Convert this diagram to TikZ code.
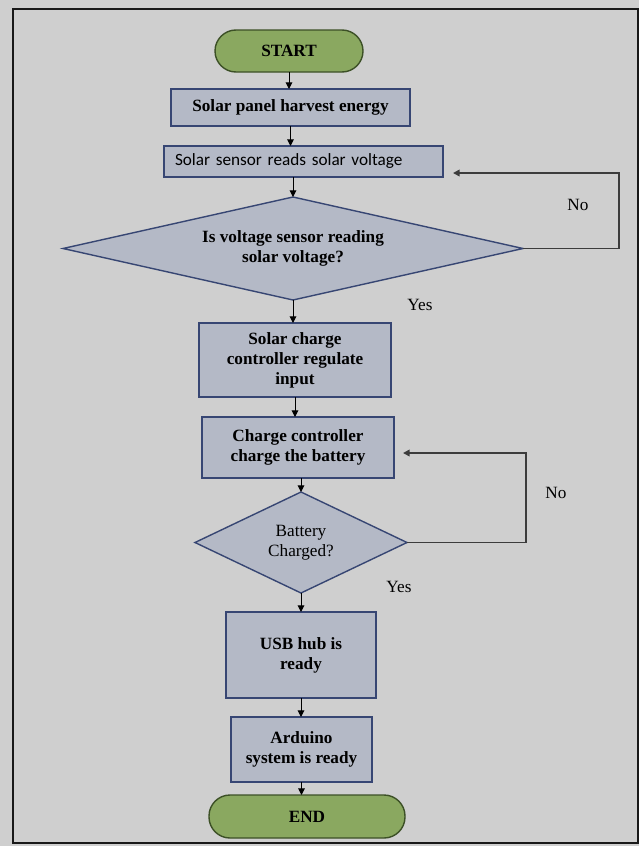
\documentclass[tikz,border=0pt]{standalone}
\usepackage{fontspec}
\setmainfont{Liberation Serif}
\newfontfamily\calibri{Carlito}
\usepackage{tikz}
\usetikzlibrary{shapes.geometric, positioning, arrows.meta}
\definecolor{fondo}{RGB}{207,207,207}
\definecolor{cajafill}{RGB}{180,185,198}
\definecolor{cajaborde}{RGB}{55,70,115}
\definecolor{verde}{RGB}{138,168,96}
\definecolor{verdeborde}{RGB}{60,80,38}
\definecolor{lazo}{RGB}{60,60,60}
\tikzset{
	>={Triangle[length=3.3pt,width=3.3pt]}, % Punta de las flechas
	every node/.style={outer sep=0pt, font=\rmfamily\mdseries\fontsize{8.6}{10}\selectfont}, % Texto normal
	terminal/.style={draw=verdeborde, fill=verde, line width=0.7pt, rounded corners=10.5pt, inner sep=0pt, font=\rmfamily\bfseries\fontsize{8.6}{10}\selectfont}, % Inicio y fin
	caja/.style={draw=cajaborde, fill=cajafill, line width=0.7pt, align=center, inner sep=0pt, font=\rmfamily\bfseries\fontsize{8.6}{10}\selectfont}, % Procesos
	decision/.style={diamond, draw=cajaborde, fill=cajafill, line width=0.7pt, align=center, inner sep=0pt}, % Preguntas
	flujo/.style={->, line width=0.5pt, black}, % Flechas verticales
	retorno/.style={->, line width=0.8pt, draw=lazo}, % Lazos del No
	etiqueta/.style={inner sep=0pt, font=\rmfamily\mdseries\fontsize{8.6}{10}\selectfont} % Yes y No
}

\begin{document}
\begin{tikzpicture}
				\fill[fondo] (0,0) rectangle (319.5pt,-423pt);
				\draw[line width=1pt, black!90] (6.5pt,-4.5pt) rectangle (319pt,-421.5pt);

				\node[terminal, minimum width=74pt, minimum height=21pt] (start) at (144.5pt,-25.5pt) {START};
				\node[caja, minimum width=119.5pt, minimum height=18.5pt, below=8.5pt of start, xshift=0.75pt] (harvest) {Solar panel harvest energy};
				\node[caja, font=\calibri\mdseries\fontsize{8.6}{10}\selectfont, text width=128.5pt, inner xsep=5.5pt, align=left, minimum height=15.5pt, below=10pt of harvest, xshift=6.5pt] (sensor) {Solar sensor reads solar voltage};
				\node[decision, aspect=4.47, font=\rmfamily\bfseries\fontsize{8.6}{10}\selectfont, minimum width=230pt, minimum height=51.5pt, below=10pt of sensor, xshift=-5.25pt] (check) {Is voltage sensor reading\\solar voltage?};
				\node[caja, minimum width=96pt, minimum height=37pt, below=11.5pt of check, xshift=1pt] (regulate) {Solar charge\\controller regulate\\input};
				\node[caja, minimum width=96pt, minimum height=30.5pt, below=10pt of regulate, xshift=1.5pt] (charge) {Charge controller\\charge the battery};
				\node[decision, aspect=2.1, minimum width=106pt, minimum height=50.5pt, below=7pt of charge, xshift=1.5pt] (charged) {Battery\\Charged?};
				\node[caja, minimum width=75pt, minimum height=43pt, below=9.5pt of charged] (usb) {USB hub is\\ready};
				\node[caja, minimum width=70.5pt, minimum height=32.5pt, below=9.5pt of usb, xshift=0.25pt] (arduino) {Arduino\\system is ready};
				\node[terminal, minimum width=98pt, minimum height=21.5pt, below=6.5pt of arduino, xshift=2.75pt] (end) {END};

				\foreach \a/\b in {start/harvest, harvest/sensor, check/regulate, regulate/charge, charged/usb, usb/arduino, arduino/end}
					\draw[flujo] (\a.south) -- (\a.south |- \b.north);
				\foreach \a/\b in {sensor/check, charge/charged}
					\draw[flujo] (\b.north |- \a.south) -- (\b.north);

				% lazos de vuelta
				\coordinate[right=5pt of sensor.east, yshift=-5.75pt] (ret1);
				\draw[retorno] (check.east) -- ++(48pt,0) |- (ret1);
				\coordinate[right=4.5pt of charge.east, yshift=-2.75pt] (ret2);
				\draw[retorno] (charged.east) -- ++(59.5pt,0) |- (ret2);

				\node[etiqueta] (no1) at ([shift={(27.5pt,22pt)}]check.east) {No};
				\node[etiqueta] (yes1) at ([shift={(63.5pt,-2.5pt)}]check.south) {Yes};
				\node[etiqueta] (no2) at ([shift={(74.5pt,25pt)}]charged.east) {No};
				\node[etiqueta] (yes2) at ([shift={(49pt,3pt)}]charged.south) {Yes};
\end{tikzpicture}
\end{document}
